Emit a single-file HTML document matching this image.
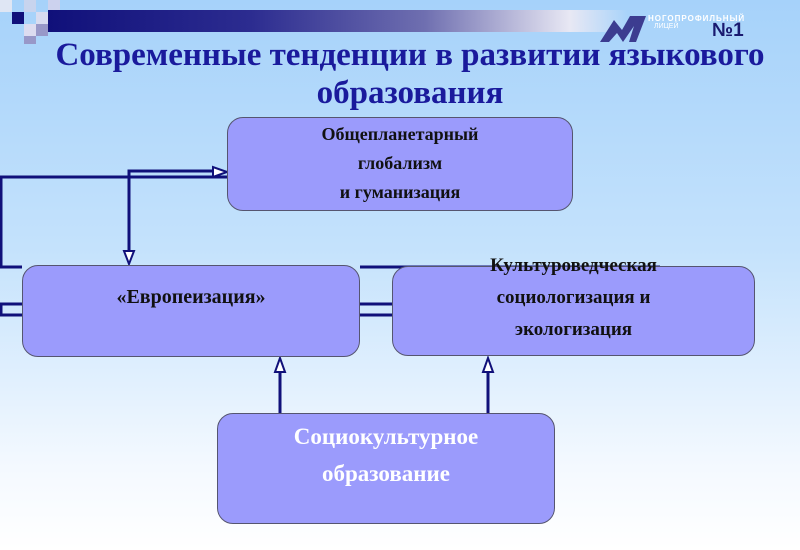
<!DOCTYPE html>
<html><head><meta charset="utf-8"><style>
body{margin:0;width:800px;height:550px;overflow:hidden;position:relative;font-family:"Liberation Serif",serif;
background:linear-gradient(#a6d2fa 0%,#c4e2fc 45%,#f4f9ff 85%,#fff 100%);}
.bar{position:absolute;left:48px;top:10px;width:580px;height:22px;background:linear-gradient(90deg,#10107a 0%,#2c2c90 35%,#6f6fb0 65%,#e8e8f4 90%,rgba(255,255,255,0) 100%);}
.sq{position:absolute;}
.t{position:absolute;left:0;width:820px;text-align:center;color:#1a1a9c;font-weight:bold;font-size:33px;line-height:38px;}
.box{position:absolute;background:#9b9bfc;border:1.5px solid #555570;border-radius:16px;box-sizing:border-box;text-align:center;font-weight:bold;color:#111;}
</style></head><body>
<div class="bar"></div>
<div class="sq" style="left:12px;top:12px;width:12px;height:12px;background:#10107a"></div>
<div class="sq" style="left:0;top:0;width:12px;height:12px;background:#dfe6f4"></div>
<div class="sq" style="left:24px;top:0;width:12px;height:12px;background:#c8d4ee"></div>
<div class="sq" style="left:36px;top:12px;width:12px;height:12px;background:#d8dcf0"></div>
<div class="sq" style="left:48px;top:0;width:12px;height:10px;background:#ccd2ee"></div>
<div class="sq" style="left:24px;top:24px;width:12px;height:12px;background:#dcdcf0"></div>
<div class="sq" style="left:36px;top:24px;width:12px;height:12px;background:#9898c8"></div>
<div class="sq" style="left:24px;top:36px;width:12px;height:8px;background:#9898c8"></div>
<div style="position:absolute;left:648px;top:14px;font:bold 8px 'Liberation Sans',sans-serif;color:#fff;letter-spacing:1px">НОГОПРОФИЛЬНЫЙ</div>
<div style="position:absolute;left:654px;top:23px;font:7px 'Liberation Sans',sans-serif;color:#fff">ЛИЦЕЙ</div>
<div style="position:absolute;left:712px;top:20px;font:bold 19px 'Liberation Sans',sans-serif;color:#1a1a70">№1</div>
<svg style="position:absolute;left:598px;top:12px" width="60" height="32"><polygon points="2,30 16,8 24,18 32,4 48,4 38,30 31,30 36,14 25,30 19,21 11,30" fill="#3c3c90"/></svg>
<div class="t" style="top:36px">Современные тенденции в развитии языкового</div>
<div class="t" style="top:74px">образования</div>
<svg style="position:absolute;left:0;top:0" width="800" height="550">
<g stroke="#10107a" stroke-width="3" fill="none">
<polyline points="227,177 1,177 1,267 22,267"/>
<line x1="360" y1="267" x2="660" y2="267"/>
<polyline points="220,171 129,171 129,255"/>
<polyline points="22,304 1,304 1,315 22,315"/>
<line x1="360" y1="304" x2="392" y2="304"/><line x1="360" y1="315" x2="392" y2="315"/>
<line x1="280" y1="413" x2="280" y2="370"/><line x1="488" y1="413" x2="488" y2="370"/>
</g>
<g fill="#fff" stroke="#10107a" stroke-width="2">
<polygon points="227,172 213,167 213,177"/>
<polygon points="129,264 124,251 134,251"/>
<polygon points="280,358 275,372 285,372"/>
<polygon points="488,358 483,372 493,372"/>
</g>
</svg>
<div class="box" style="left:227px;top:117px;width:346px;height:94px;font-size:18px;line-height:29px;padding-top:2px">Общепланетарный<br>глобализм<br>и гуманизация</div>
<div class="box" style="left:22px;top:265px;width:338px;height:92px;font-size:20px;padding-top:20px">«Европеизация»</div>
<div class="box" style="left:392px;top:266px;width:363px;height:90px"></div>
<div style="position:absolute;left:392px;top:250px;width:363px;text-align:center;font-weight:bold;font-size:19px;line-height:32px;color:#111">Культуроведческая<br>социологизация и<br>экологизация</div>
<div class="box" style="left:217px;top:413px;width:338px;height:111px;font-size:23px;line-height:37px;color:#fff;padding-top:4px">Социокультурное<br>образование</div>
</body></html>
